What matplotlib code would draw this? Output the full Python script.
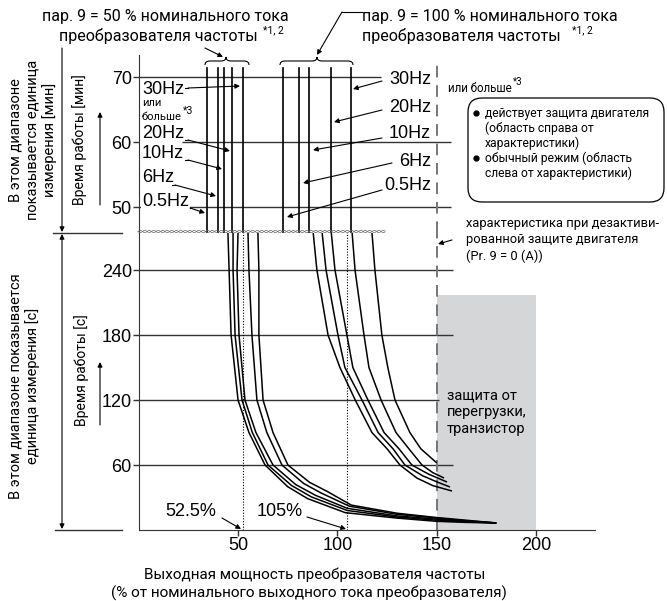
import numpy as np
import matplotlib.pyplot as plt
from matplotlib.patches import Rectangle, FancyBboxPatch, PathPatch
from matplotlib.path import Path

W, H = 667, 601
RU = ['Roboto', 'DejaVu Sans']
NUM = ['Liberation Sans', 'DejaVu Sans']

# ---- data ----
min_ticks = [50, 60, 70]
sec_ticks = [60, 120, 180, 240]
x_ticks = [50, 100, 150, 200]
hz = ['30Hz', '20Hz', '10Hz', '6Hz', '0.5Hz']

# vertical lines in the minutes region (30Hz ... 0.5Hz)
x_min50 = [52.5, 47.0, 43.0, 40.0, 34.4]
x_min100 = [106.8, 96.8, 85.7, 80.7, 72.6]
min_top = 71.4

# seconds region, par. 9 = 50 %  (x in %, t in s)
c50 = [
    [(44.9, 275), (45.5, 240), (46.5, 180), (50.0, 120), (55.5, 90), (63.6, 60), (75, 40), (85, 29), (104, 16), (130, 11), (150, 8), (165, 7), (180, 6.5)],
    [(47.5, 275), (47.5, 240), (48.5, 180), (52.0, 120), (57.2, 90), (65.1, 60), (77, 41), (87, 30.5), (105, 18), (130, 12), (150, 9), (165, 7.5), (180, 6.5)],
    [(50.0, 275), (49.5, 240), (50.5, 180), (53.5, 120), (59.0, 90), (67.6, 60), (79, 42), (89, 32), (105, 20), (130, 13), (150, 10), (165, 8), (180, 6.5)],
    [(55.0, 275), (55.5, 240), (57.0, 180), (59.5, 120), (64.5, 90), (72.1, 60), (83, 43), (92, 34), (106, 22), (130, 14.5), (150, 11), (165, 8.5), (180, 6.5)],
    [(60.0, 275), (60.5, 240), (60.5, 180), (62.6, 120), (67.6, 90), (75.1, 60), (86, 44), (95, 35.5), (107, 23), (130, 15.5), (150, 11.5), (165, 9), (180, 6.5)],
]
# par. 9 = 100 %
c100 = [
    [(87.8, 275), (89.7, 240), (95.3, 180), (101.3, 150), (109.0, 120), (117.4, 90), (125, 75), (131.5, 60), (140, 48), (148, 41), (157.7, 36)],
    [(92.3, 275), (94.3, 240), (100.3, 180), (103.8, 150), (112.4, 120), (120.5, 90), (128, 75), (134, 60), (143, 50), (150, 44.5), (156.7, 39.7)],
    [(96.9, 275), (98.8, 240), (104.8, 180), (107.8, 150), (115.4, 120), (123.5, 90), (131, 75), (137.5, 60), (146, 51.5), (155.2, 44.3)],
    [(107.4, 275), (108.9, 240), (113.4, 180), (115.9, 150), (122.0, 120), (129.5, 90), (136, 75), (142.6, 60), (148, 53), (153.7, 48)],
    [(117.4, 275), (118.9, 240), (122.4, 180), (125.4, 150), (129.0, 120), (136.5, 90), (142, 75), (150, 62)],
]
overload_top = 217

# ---- layout (pixels) ----
x0px, xscale = 138.7, 1.9867
xmax = (595 - x0px) / xscale
fig = plt.figure(figsize=(W / 100, H / 100), dpi=100)

def axes_px(top, bottom):
    return [x0px / W, 1 - bottom / H, (595 - x0px) / W, (bottom - top) / H]

up = fig.add_axes(axes_px(55, 233))
lo = fig.add_axes(axes_px(233, 530))
ov = fig.add_axes([0, 0, 1, 1], zorder=5)
ov.set_xlim(0, W)
ov.set_ylim(H, 0)
ov.axis('off')
ov.patch.set_alpha(0)

for ax in (up, lo):
    ax.set_xlim(0, xmax)
    for s in ('top', 'right'):
        ax.spines[s].set_visible(False)
    ax.spines['left'].set_color('#333333')
    ax.tick_params(direction='out', length=4, width=1, colors='#333333',
                   labelsize=13, labelcolor='black', pad=1)
up.spines['bottom'].set_visible(False)
up.set_xticks([])
lo.spines['bottom'].set_color('#333333')

# minutes region
up.set_ylim(46, 73.4)
up.set_yticks(min_ticks)
up.set_yticklabels([str(v) for v in min_ticks], family=NUM)
up.hlines(70, 0, 122, color='#333333', lw=1)
up.hlines(60, 22, 157, color='#333333', lw=1)
up.hlines(50, 0, 157, color='#333333', lw=1)
for x in x_min50 + x_min100:
    up.plot([x, x], [46, min_top], color='black', lw=1.2)
up.plot([150, 150], [46, 72.6], color='#777777', lw=1.4, dashes=(6, 4))

# seconds region
lo.set_ylim(0, (530 - 233) / 1.083)
lo.set_yticks(sec_ticks)
lo.set_yticklabels([str(v) for v in sec_ticks], family=NUM)
lo.set_xticks(x_ticks)
lo.set_xticklabels([str(v) for v in x_ticks], family=NUM)
lo.add_patch(Rectangle((150, 0), 50, overload_top, color='#d5d6d8', zorder=0, lw=0))
for t in sec_ticks:
    lo.hlines(t, 0, 151 if t == 120 else 158, color='#333333', lw=1, zorder=1)
for x in (52.5, 105):
    lo.plot([x, x], [0, 280], color='black', lw=0.8, ls=(0, (1, 1.5)))
lo.plot([150, 150], [0, 280], color='#777777', lw=1.4, dashes=(6, 4), zorder=2)
for c in c50 + c100:
    xs, ts = zip(*c)
    lo.plot(xs, ts, color='black', lw=1.1, zorder=3, solid_capstyle='butt')

# break line
xw = np.linspace(138, 385, 500)
for sgn in (1, -1):
    ov.plot(xw, 231.5 + sgn * 1.1 * np.sin(2 * np.pi * (xw - 138) / 9), color='#666666', lw=0.5)

ap = dict(arrowstyle='-|>', color='black', lw=0.8, mutation_scale=7, shrinkA=0, shrinkB=0)

def arrow(x1, y1, x2, y2):
    ov.annotate('', xy=(x2, y2), xytext=(x1, y1), arrowprops=ap)

# left side labels and arrows
ov.plot([53, 122], [233, 233], color='#333333', lw=1)
ov.plot([55, 122], [530, 530], color='#333333', lw=1)
arrow(62, 48, 62, 232)
ov.annotate('', xy=(62, 234), xytext=(62, 529), arrowprops=dict(arrowstyle='<|-|>', color='black', lw=0.8, mutation_scale=7, shrinkA=0, shrinkB=0))
arrow(100, 205, 100, 112)
arrow(100, 425, 100, 362)
ov.text(33, 140, 'В этом диапазоне\nпоказывается единица\nизмерения [мин]', rotation=90,
        ha='center', va='center', family=RU, fontsize=10.5, linespacing=1.25)
ov.text(80, 140, 'Время работы [мин]', rotation=90, ha='center', va='center', family=RU, fontsize=10)
ov.text(24, 386, 'В этом диапазоне показывается\nединица измерения [с]', rotation=90,
        ha='center', va='center', family=RU, fontsize=10.5, linespacing=1.25)
ov.text(82, 370, 'Время работы [с]', rotation=90, ha='center', va='center', family=RU, fontsize=10)

# titles
ov.text(165, 17, 'пар. 9 = 50 % номинального тока', ha='center', va='center', family=RU, fontsize=11.5)
ov.text(258, 36, 'преобразователя частоты', ha='right', va='center', family=RU, fontsize=11.5)
ov.text(263, 30, '*1, 2', ha='left', va='center', family=RU, fontsize=7.5)
ov.text(362, 17, 'пар. 9 = 100 % номинального тока', ha='left', va='center', family=RU, fontsize=11.5)
ov.text(362, 36, 'преобразователя частоты', ha='left', va='center', family=RU, fontsize=11.5)
ov.text(572, 30, '*1, 2', ha='left', va='center', family=RU, fontsize=7.5)
arrow(205, 48, 223, 57)
ov.plot([362, 342], [12, 12], color='black', lw=0.8)
arrow(342, 12, 317, 55)

def brace(xa, xb, xt):
    y0, y1, y2 = 65, 61, 57
    verts = [(xa, y0), (xa, y1), (xa + 5, y1), (xt - 5, y1), (xt, y1), (xt, y2),
             (xt, y1), (xt + 5, y1), (xb - 5, y1), (xb, y1), (xb, y0)]
    codes = [Path.MOVETO, Path.CURVE3, Path.CURVE3, Path.LINETO, Path.CURVE3, Path.CURVE3,
             Path.CURVE3, Path.CURVE3, Path.LINETO, Path.CURVE3, Path.CURVE3]
    ov.add_patch(PathPatch(Path(verts, codes), fill=False, lw=0.8, color='black'))

brace(205, 249, 226)
brace(280, 353, 317)

# Hz labels, 50 %
left_y = [89, 133, 153, 178, 202]
left_start = [(188, 88), (188, 140), (188, 160), (175, 185), (190, 208)]
left_tip = [(240, 86), (230, 151), (222, 169), (216, 196), (205, 213)]
for lab, y, s, e in zip(hz, left_y, left_start, left_tip):
    ov.text(142, y, lab, ha='left', va='center', family=NUM, fontsize=13,
            bbox=dict(fc='white', ec='none', pad=0.5) if lab == '0.5Hz' else None)
    ov.plot([s[0] - 3, s[0]], [s[1], s[1]], color='black', lw=0.8)
    arrow(s[0], s[1], e[0], e[1])
ov.text(142, 103, 'или', ha='left', va='center', family=RU, fontsize=8)
ov.text(142, 117, 'больше', ha='left', va='center', family=RU, fontsize=8)
ov.text(183, 111, '*3', ha='left', va='center', family=RU, fontsize=7.5)

# Hz labels, 100 %
right_y = [80, 108, 133, 161, 186]
right_start = [(382, 81), (382, 110), (382, 138), (392, 163), (382, 190)]
right_tip = [(353, 89), (334, 122), (313, 150), (303, 183), (287, 217)]
for lab, y, s, e in zip(hz, right_y, right_start, right_tip):
    ov.text(431, y, lab, ha='right', va='center', family=NUM, fontsize=13)
    arrow(s[0], s[1], e[0], e[1])
ov.text(448, 88, 'или больше', ha='left', va='center', family=RU, fontsize=8.3)
ov.text(513, 82, '*3', ha='left', va='center', family=RU, fontsize=7)

# legend box
ov.add_patch(FancyBboxPatch((471, 101), 190, 98, boxstyle='round,pad=3,rounding_size=14',
                            fill=False, lw=0.9, ec='black'))
leg = ['действует защита двигателя', '(область справа от', 'характеристики)',
       'обычный режим (область', 'слева от характеристики)']
for i, line in enumerate(leg):
    ov.text(485, 113 + 15 * i, line, ha='left', va='center', family=RU, fontsize=8.7)
for y in (113, 158):
    ov.plot([476], [y], marker='o', ms=3.5, color='black')

ov.text(466, 240, 'характеристика при дезактиви-\nрованной защите двигателя\n(Pr. 9 = 0 (A))',
        ha='left', va='center', family=RU, fontsize=9.3, linespacing=1.35)
arrow(452, 240, 438, 244)
ov.text(447, 412, 'защита от\nперегрузки,\nтранзистор', ha='left', va='center',
        family=RU, fontsize=10.5, linespacing=1.25)

# percent markers
ov.text(191, 512, '52.5%', ha='center', va='center', family=NUM, fontsize=13)
arrow(222, 518, 241, 529)
ov.text(280, 512, '105%', ha='center', va='center', family=NUM, fontsize=13)
arrow(307, 517, 346, 529)

# x label
ov.text(315, 575, 'Выходная мощность преобразователя частоты', ha='center', va='center',
        family=RU, fontsize=11)
ov.text(309, 593, '(% от номинального выходного тока преобразователя)', ha='center',
        va='center', family=RU, fontsize=11)

fig.savefig('out.png', dpi=100)
